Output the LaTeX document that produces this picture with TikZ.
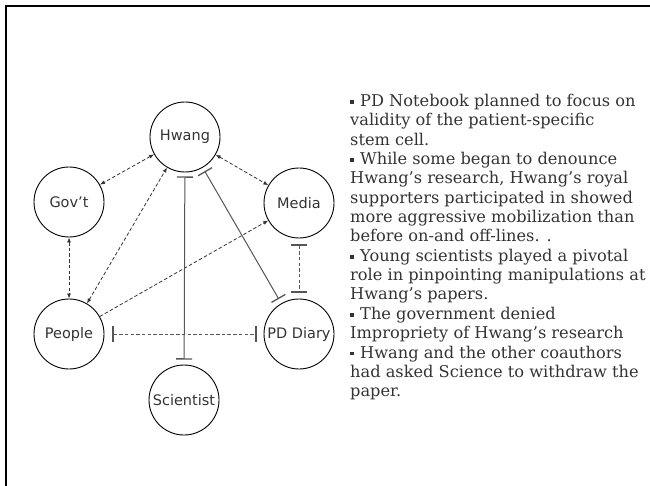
\documentclass[tikz,border=0pt]{standalone}
\usepackage{fontspec}
\setmainfont{DejaVu Serif}
\newfontfamily\labfont{DejaVu Sans}
\usetikzlibrary{arrows.meta}
\definecolor{ink}{HTML}{333333}
\definecolor{barink}{HTML}{555555}
\newcommand\sqbul{\rule[2.6pt]{3.6pt}{3.6pt}\hspace{6.4pt}}
\begin{document}
\begin{tikzpicture}[x=1pt,y=-1pt,
  actor/.style={circle,draw=black,line width=0.9pt,minimum size=70pt,inner sep=0pt,
    font=\labfont\fontsize{14.5}{16}\selectfont,text=ink},
  link/.style={draw=ink,line width=0.8pt,dash pattern=on 3.5pt off 2.2pt},
  both/.style={link,{Latex[length=5pt,width=4pt]}-{Latex[length=5pt,width=4pt]}},
  onehead/.style={link,-{Latex[length=5pt,width=4pt]}},
  blockline/.style={draw=barink,line width=1pt,{Bar[width=16pt,line width=1.3pt]}-{Bar[width=16pt,line width=1.3pt]}},
  blockdash/.style={blockline,dash pattern=on 3.5pt off 2.2pt}
]
\useasboundingbox (0,0) rectangle (650,486);
\draw[line width=2.3pt] (6.2,487) -- (6.2,6.3) -- (651,6.3);

\node[actor] (hw) at (185,137) {Hwang};
\node[actor] (gov) at (69,202) {Gov’t};
\node[actor] (med) at (299,203) {Media};
\node[actor] (ppl) at (69,334) {People};
\node[actor] (pd) at (299,334) {PD Diary};
\node[actor] (sci) at (184,400) {Scientist};

\draw[both] (hw) -- (gov);
\draw[both] (hw) -- (med);
\draw[both] (gov) -- (ppl);
\draw[both] (ppl) -- (hw);
\draw[onehead] (ppl) -- (med);
\draw[blockline,shorten <=4pt,shorten >=5pt] (hw) -- (sci);
\draw[blockline,shorten <=4pt,shorten >=5pt] (hw) -- (pd);
\draw[blockdash,shorten <=6pt,shorten >=6pt] (med) -- (pd);
\draw[blockdash,shorten <=8pt,shorten >=7pt] (ppl) -- (pd);

\node[anchor=base west,inner sep=0pt,text=ink] (notes) at (350,106.5) {\parbox[t]{400pt}{\fontsize{16.2}{19.35}\selectfont\raggedright
\sqbul PD Notebook planned to focus on\\
validity of the patient-specific\\
stem cell.\\
\sqbul While some began to denounce\\
Hwang’s research, Hwang’s royal\\
supporters participated in showed\\
more aggressive mobilization than\\
before on-and off-lines. .\\
\sqbul Young scientists played a pivotal\\
role in pinpointing manipulations at\\
Hwang’s papers.\\
\sqbul The government denied\\
Impropriety of Hwang’s research\\
\sqbul Hwang and the other coauthors\\
had asked Science to withdraw the\\
paper.}};
\end{tikzpicture}
\end{document}
